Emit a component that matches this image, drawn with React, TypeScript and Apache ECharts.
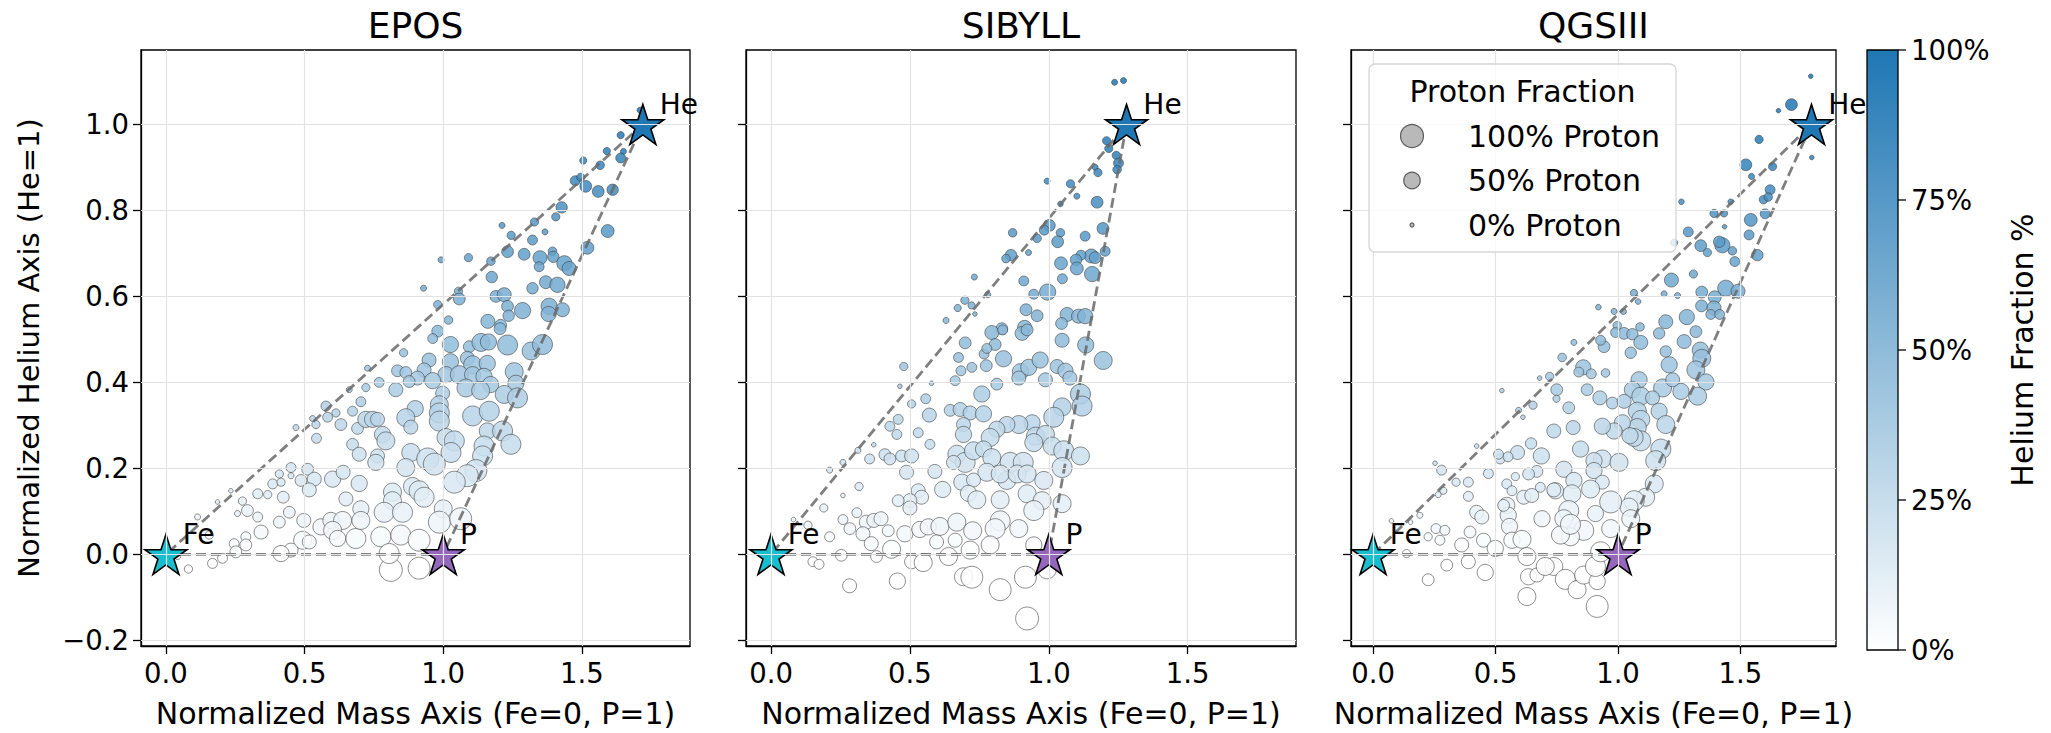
import React, { useEffect, useRef } from 'react';
import * as echarts from 'echarts';

const PANEL_TITLES = ['EPOS', 'SIBYLL', 'QGSIII'];
const HE_X = [1.72, 1.28, 1.79];
const X_TICKS = [0, 0.5, 1.0, 1.5];
const Y_TICKS = [-0.2, 0, 0.2, 0.4, 0.6, 0.8, 1.0];
const CBAR_TICKS = [0, 25, 50, 75, 100];
const LEGEND_LEVELS = [100, 50, 0];
const X_LABEL = 'Normalized Mass Axis (Fe=0, P=1)';
const Y_LABEL = 'Normalized Helium Axis (He=1)';
const CBAR_LABEL = 'Helium Fraction %';
const LEGEND_TITLE = 'Proton Fraction';

// [x, y, helium %, proton %]
const EPOS_POINTS = [
  [1.71,1.033,100,4],[1.64,0.975,98,7],[1.59,0.938,94,7],[1.65,0.937,94,4],[1.64,0.922,92,16],
  [1.505,0.916,92,7],[1.566,0.905,90,11],[1.476,0.869,87,16],[1.496,0.877,88,10],[1.514,0.856,86,24],
  [1.559,0.844,84,24],[1.611,0.848,85,22],[1.427,0.807,81,22],[1.406,0.785,79,10],[1.329,0.773,77,10],
  [1.212,0.765,77,4],[1.367,0.75,75,4],[1.593,0.752,75,29],[1.245,0.742,74,10],[1.322,0.731,73,16],
  [1.52,0.713,71,29],[1.394,0.705,71,11],[1.232,0.704,70,24],[1.292,0.698,70,24],[1.349,0.69,69,35],
  [1.397,0.692,69,22],[1.437,0.677,68,42],[1.454,0.665,67,35],[1.346,0.669,67,16],[0.992,0.685,69,4],
  [1.091,0.69,69,10],[1.172,0.682,68,11],[1.175,0.645,65,22],[1.37,0.633,63,29],[1.412,0.627,63,42],
  [1.322,0.619,62,22],[0.929,0.619,62,4],[1.055,0.612,61,10],[1.19,0.6,60,24],[1.22,0.604,60,35],
  [1.058,0.594,59,24],[0.98,0.581,58,10],[1.232,0.577,58,24],[1.286,0.567,57,48],[1.382,0.577,58,48],
  [1.43,0.569,57,35],[1.236,0.555,56,22],[1.38,0.559,56,42],[1.019,0.545,55,11],[1.161,0.542,54,35],
  [1.207,0.533,53,24],
  [0.98,0.519,52,24],[0.962,0.502,50,16],[1.026,0.488,49,48],[1.094,0.483,48,24],[1.136,0.493,49,60],
  [1.163,0.494,49,48],[1.232,0.487,49,75],[1.317,0.473,47,60],[1.358,0.488,49,75],[1.205,0.525,52,24],
  [0.857,0.469,47,10],[0.727,0.433,43,4],[0.949,0.452,45,35],[1.026,0.448,45,48],[1.087,0.456,46,35],
  [1.106,0.441,44,60],[1.159,0.444,44,48],[0.835,0.427,43,24],[0.865,0.423,42,24],[0.931,0.429,43,35],
  [1.256,0.425,43,60],[1.01,0.418,42,48],[1.058,0.418,42,60],[1.106,0.418,42,48],[1.147,0.414,41,48],
  [0.907,0.41,41,35],[0.962,0.404,40,48],[0.769,0.4,40,16],[0.721,0.388,39,10],[0.829,0.383,38,35],
  [0.877,0.402,40,24],[1.171,0.395,40,48],[1.262,0.398,40,48],[1.082,0.387,39,60],[1.135,0.381,38,60],
  [0.998,0.375,38,35],[1.22,0.372,37,60],[1.268,0.364,36,75],[0.661,0.383,38,4],[0.577,0.345,35,16],
  [0.703,0.355,36,16],[0.613,0.329,33,10],[0.583,0.319,32,16],[0.673,0.333,33,16],[0.631,0.302,30,24],
  [0.691,0.293,29,24],[0.673,0.256,26,24],[0.697,0.233,23,35],[0.541,0.302,30,10],[0.543,0.27,27,16],
  [0.469,0.295,30,4],[0.529,0.316,32,4],[0.721,0.314,31,48],[0.745,0.314,31,48],[0.763,0.314,31,35],
  [0.899,0.339,34,48],[0.865,0.318,32,60],[0.883,0.296,30,35],[0.986,0.348,35,60],[0.986,0.329,33,75],
  [0.986,0.31,31,75],[1.106,0.322,32,75],[1.166,0.333,33,75],[0.781,0.279,28,48],[0.793,0.264,26,60],
  [1.01,0.272,27,60],[1.04,0.264,26,75],[1.028,0.237,24,75],[1.159,0.287,29,48],[1.214,0.287,29,75],
  [1.244,0.256,26,75],[1.147,0.252,25,75],[1.142,0.229,23,75],[0.883,0.237,24,60],[0.944,0.222,22,91],
  [0.968,0.21,21,91],[0.763,0.229,23,35],[0.757,0.214,21,48],[0.865,0.202,20,60],[1.118,0.195,20,91],
  [1.087,0.183,18,91],[1.04,0.168,17,91],[0.451,0.202,20,16],[0.511,0.198,20,24],[0.487,0.172,17,24],
  [0.535,0.175,18,35],[0.517,0.15,15,35],[0.601,0.175,18,48],[0.639,0.191,19,35],[0.697,0.165,17,48],
  [0.649,0.129,13,35],[0.409,0.187,19,10],[0.385,0.164,16,16],[0.415,0.168,17,10],[0.451,0.183,18,4],
  [0.331,0.141,14,16],[0.367,0.139,14,10],[0.423,0.133,13,24],[0.276,0.124,12,10],[0.294,0.102,10,24],
  [0.331,0.087,9,16],[0.258,0.095,10,4],[0.234,0.148,15,1],[0.186,0.122,12,1],[0.114,0.087,9,4],
  [0.817,0.145,15,60],[0.817,0.125,13,60],[0.889,0.158,16,60],[0.913,0.148,15,75],[0.931,0.133,13,75],
  [0.703,0.106,11,48],[0.787,0.098,10,75],[0.853,0.098,10,75],[1.0,0.106,11,60],[0.986,0.075,8,91],
  [1.063,0.083,8,91],[0.445,0.098,10,24],[0.497,0.079,8,35],[0.409,0.075,8,24],[0.343,0.052,5,35],
  [0.559,0.064,6,48],[0.595,0.079,8,48],[0.637,0.079,8,60],[0.601,0.056,6,60],[0.619,0.037,4,48],
  [0.685,0.037,4,75],[0.703,0.079,8,60],[0.775,0.041,4,75],[0.847,0.045,5,75],[0.913,0.033,3,91],
  [0.493,0.033,3,60],[0.517,0.029,3,35],[0.451,0.01,1,35],[0.415,0.002,0,48],[0.288,0.041,4,16],
  [0.288,0.022,2,24],[0.246,0.025,3,16],[0.252,0.006,1,24],[0.204,-0.009,0,16],[0.168,-0.021,0,16],
  [0.081,-0.034,0,10],[0.042,-0.005,0,4],[0.156,0.045,5,10],[0.811,-0.036,0,100],[0.913,-0.032,0,91],
  [0.805,0.002,0,75]
];

const SIBYLL_POINTS = [
  [1.237,1.098,100,4],[1.269,1.102,100,4],[1.208,0.962,96,10],[1.216,0.944,94,10],[1.243,0.928,93,10],
  [1.251,0.91,91,16],[1.246,0.895,90,11],[1.167,0.9,90,4],[1.177,0.888,89,10],[0.994,0.868,87,4],
  [1.078,0.862,86,10],[1.101,0.833,83,4],[1.042,0.815,82,3],[1.174,0.819,82,24],[1.002,0.765,77,24],
  [0.984,0.754,75,16],[0.958,0.735,74,11],[0.87,0.748,75,11],[1.042,0.748,75,11],[1.032,0.727,73,24],
  [1.131,0.74,74,16],[1.195,0.758,76,24],[1.203,0.705,71,16],[1.153,0.694,69,35],[1.116,0.696,70,16],
  [1.098,0.685,69,22],[1.167,0.69,69,24],[0.864,0.696,70,22],[0.846,0.688,69,11],[0.927,0.702,70,4],
  [1.044,0.677,68,29],[1.101,0.665,67,29],[1.156,0.652,65,42],[1.049,0.641,64,16],[0.732,0.645,65,4],
  [0.91,0.636,64,16],[0.996,0.61,61,48],[0.946,0.605,61,16],[0.78,0.604,60,4],[0.698,0.591,59,10],
  [0.672,0.573,57,7],[0.722,0.579,58,7],[0.734,0.559,56,1],[0.63,0.544,54,4],[0.918,0.569,57,24],
  [0.958,0.555,56,24],[0.913,0.528,53,35],[0.831,0.525,53,24],[1.066,0.558,56,35],[1.046,0.537,54,24],
  [1.107,0.554,55,35],[1.131,0.554,55,42],
  [0.795,0.516,52,35],[0.834,0.522,52,16],[0.904,0.514,51,35],[0.922,0.522,52,24],[1.048,0.498,50,35],
  [1.133,0.487,49,48],[1.196,0.451,45,60],[0.699,0.492,49,24],[0.807,0.488,49,24],[0.767,0.466,47,16],
  [0.777,0.479,48,16],[0.675,0.458,46,16],[0.723,0.435,44,16],[0.775,0.439,44,24],[0.837,0.455,46,48],
  [0.684,0.427,43,16],[0.663,0.404,40,16],[0.813,0.396,40,24],[0.898,0.425,43,48],[0.928,0.435,44,48],
  [0.892,0.41,41,35],[0.969,0.452,45,48],[0.988,0.406,41,35],[1.03,0.437,44,35],[1.06,0.427,43,42],
  [1.076,0.41,41,35],[0.478,0.437,44,10],[0.464,0.391,39,1],[0.578,0.398,40,1],[0.759,0.373,37,48],
  [0.506,0.35,35,10],[0.557,0.362,36,16],[0.57,0.324,32,35],[0.645,0.335,34,24],[0.681,0.337,34,35],
  [0.717,0.329,33,35],[0.765,0.327,33,48],[1.114,0.373,37,75],[1.12,0.345,35,75],[1.048,0.343,34,60],
  [1.018,0.319,32,75],[0.94,0.306,31,48],[0.892,0.302,30,60],[0.849,0.302,30,48],[0.813,0.291,29,48],
  [0.458,0.314,31,16],[0.428,0.298,30,16],[0.453,0.279,28,16],[0.53,0.283,28,16],[0.572,0.256,26,16],
  [0.693,0.302,30,35],[0.693,0.279,28,48],[0.789,0.272,27,60],[0.952,0.275,28,60],[0.988,0.279,28,60],
  [0.946,0.26,26,60],[1.012,0.252,25,60],[1.054,0.241,24,75],[1.114,0.229,23,60],[1.048,0.202,20,75],
  [0.313,0.242,24,4],[0.37,0.255,26,1],[0.355,0.222,22,16],[0.41,0.232,23,24],[0.428,0.222,22,24],
  [0.47,0.229,23,24],[0.506,0.229,23,35],[0.259,0.214,21,4],[0.211,0.196,20,4],[0.669,0.233,23,60],
  [0.699,0.214,21,75],[0.729,0.241,24,60],[0.765,0.245,25,48],[0.795,0.225,23,60],[0.861,0.214,21,75],
  [0.908,0.214,21,75],[0.657,0.214,21,35],[0.488,0.191,19,35],[0.59,0.193,19,35],[0.777,0.191,19,60],
  [0.849,0.172,17,60],[0.825,0.187,19,60],[0.886,0.187,19,60],[0.922,0.187,19,60],[0.982,0.172,17,60],
  [0.687,0.168,17,48],[0.729,0.173,17,35],[0.618,0.151,15,48],[0.711,0.142,14,48],[0.741,0.127,13,60],
  [0.825,0.127,13,60],[0.922,0.141,14,60],[0.976,0.125,13,60],[1.048,0.118,12,60],[0.946,0.102,10,75],
  [0.317,0.158,16,10],[0.259,0.137,14,1],[0.53,0.148,15,35],[0.542,0.133,13,35],[0.5,0.125,13,35],
  [0.458,0.125,13,24],[0.5,0.108,11,35],[0.19,0.108,11,10],[0.081,0.081,8,1],[0.133,0.068,7,10],
  [0.259,0.081,8,16],[0.309,0.097,10,16],[0.343,0.075,8,35],[0.37,0.079,8,35],[0.396,0.083,8,35],
  [0.284,0.06,6,24],[0.331,0.048,5,35],[0.211,0.041,4,16],[0.361,0.025,3,35],[0.422,0.055,6,24],
  [0.482,0.048,5,48],[0.536,0.058,6,48],[0.566,0.064,6,48],[0.608,0.065,7,60],[0.669,0.075,8,60],
  [0.726,0.055,6,60],[0.825,0.078,8,75],[0.892,0.06,6,60],[0.807,0.06,6,75],[0.596,0.029,3,35],
  [0.663,0.033,3,35],[0.717,0.01,1,60],[0.789,0.022,2,60],[0.434,0.012,1,60],[0.38,-0.005,0,24],
  [0.253,-0.002,0,24],[0.151,-0.017,0,16],[0.173,-0.023,0,16],[0.506,-0.017,0,35],[0.548,-0.019,0,60],
  [0.639,-0.005,0,60],[0.946,0.022,2,48],[0.994,-0.036,0,60],[0.916,-0.053,0,91],[0.693,-0.052,0,60],
  [0.723,-0.053,0,91],[0.825,-0.082,0,91],[0.455,-0.062,0,48],[0.283,-0.073,0,35],[0.922,-0.149,0,100]
];

const QGSIII_POINTS = [
  [1.787,1.112,100,1],[1.708,1.046,100,24],[1.655,1.032,100,1],[1.576,0.965,97,10],[1.791,0.923,92,1],
  [1.522,0.906,91,24],[1.631,0.902,90,10],[1.545,0.879,88,4],[1.621,0.848,85,16],[1.594,0.825,83,11],
  [1.613,0.831,83,11],[1.46,0.82,82,3],[1.259,0.82,82,3],[1.601,0.792,79,16],[1.392,0.793,79,10],
  [1.433,0.793,79,7],[1.542,0.778,78,29],[1.435,0.762,76,1],[1.287,0.75,75,16],[1.535,0.743,74,16],
  [1.229,0.725,73,7],[1.338,0.718,72,24],[1.365,0.702,70,10],[1.426,0.719,72,42],[1.413,0.727,73,22],
  [1.467,0.706,71,11],[1.569,0.696,70,22],[1.477,0.681,68,16],[1.308,0.652,65,10],[1.218,0.638,64,35],
  [1.44,0.619,62,48],[1.49,0.612,61,35],[1.342,0.61,61,24],[1.395,0.598,60,29],[1.243,0.602,60,4],
  [1.188,0.606,61,4],[1.065,0.608,61,7],[1.082,0.588,59,3],[0.92,0.575,58,3],[0.984,0.565,57,4],
  [1.022,0.565,57,4],[1.341,0.578,58,24],[1.392,0.573,57,35],[1.379,0.558,56,16],[1.415,0.558,56,16],
  [1.281,0.552,55,42],[1.195,0.541,54,35],[0.997,0.532,53,11],[1.09,0.529,53,11],
  [0.82,0.493,49,4],[0.943,0.483,48,24],[0.929,0.498,50,16],[0.99,0.516,52,16],[1.025,0.514,51,24],
  [1.059,0.512,51,22],[1.093,0.493,49,35],[1.168,0.514,51,22],[1.27,0.495,50,35],[1.318,0.518,52,24],
  [1.195,0.472,47,22],[1.336,0.475,48,48],[1.342,0.456,46,60],[1.052,0.469,47,22],[0.772,0.458,46,11],
  [0.858,0.435,44,42],[0.84,0.424,42,16],[0.891,0.42,42,16],[0.949,0.422,42,11],[1.209,0.441,44,48],
  [1.318,0.429,43,60],[1.359,0.401,40,48],[1.325,0.368,37,60],[1.257,0.379,38,48],[1.182,0.387,39,60],
  [1.223,0.406,41,35],[1.086,0.406,41,48],[1.059,0.383,38,48],[1.093,0.368,37,60],[1.141,0.364,36,35],
  [1.168,0.333,33,48],[1.195,0.302,30,60],[1.175,0.245,25,75],[1.154,0.218,22,75],[1.148,0.164,16,60],
  [1.113,0.133,13,60],[1.066,0.125,13,75],[1.045,0.11,11,60],[1.052,0.083,8,60],[0.68,0.41,41,1],
  [0.721,0.414,41,10],[0.75,0.383,38,24],[0.749,0.362,36,7],[0.799,0.341,34,24],[0.874,0.383,38,24],
  [0.926,0.364,36,35],[0.977,0.352,35,24],[1.025,0.356,36,35],[1.079,0.333,33,60],[1.093,0.314,31,60],
  [1.079,0.295,30,60],[1.093,0.264,26,75],[1.066,0.272,27,60],[1.018,0.306,31,48],[0.984,0.287,29,48],
  [0.936,0.298,30,48],[1.049,0.276,28,48],[0.653,0.347,35,10],[0.594,0.335,34,4],[0.612,0.319,32,1],
  [0.526,0.381,38,1],[0.738,0.287,29,35],[0.817,0.295,30,35],[0.847,0.245,25,48],[0.645,0.258,26,22],
  [0.687,0.229,23,48],[0.59,0.237,24,35],[0.519,0.222,22,16],[0.551,0.227,23,16],[0.423,0.252,25,1],
  [0.936,0.222,22,60],[0.902,0.218,22,48],[1.004,0.214,21,60],[0.779,0.198,20,48],[0.902,0.195,20,48],
  [0.936,0.168,17,35],[0.82,0.172,17,48],[0.888,0.152,15,60],[0.812,0.141,14,60],[0.745,0.148,15,48],
  [0.97,0.122,12,91],[0.908,0.095,10,48],[0.799,0.102,10,75],[0.779,0.083,8,60],[0.86,0.056,6,75],
  [0.806,0.041,4,60],[0.765,0.045,5,60],[0.669,0.193,19,24],[0.635,0.187,19,24],[0.738,0.15,15,35],
  [0.581,0.181,18,10],[0.546,0.164,16,16],[0.567,0.148,15,16],[0.615,0.133,13,35],[0.648,0.137,14,35],
  [0.683,0.156,16,16],[0.546,0.114,11,48],[0.552,0.091,9,48],[0.557,0.065,7,48],[0.567,0.033,3,48],
  [0.608,0.035,4,60],[0.69,0.083,8,48],[0.806,0.07,7,75],[0.533,0.114,11,24],[0.471,0.188,19,16],
  [0.512,0.233,23,16],[0.389,0.168,17,16],[0.389,0.135,14,16],[0.339,0.168,17,10],[0.28,0.196,20,16],
  [0.253,0.212,21,1],[0.287,0.148,15,7],[0.266,0.139,14,4],[0.191,0.091,9,4],[0.075,0.078,8,1],
  [0.153,0.075,8,1],[0.423,0.098,10,35],[0.444,0.087,9,35],[0.396,0.052,5,24],[0.451,0.033,3,35],
  [0.499,0.014,1,48],[0.257,0.06,6,16],[0.293,0.056,6,16],[0.225,0.041,4,10],[0.273,0.033,3,16],
  [0.362,0.022,2,35],[0.137,0.002,0,10],[0.301,-0.025,0,24],[0.389,-0.017,0,35],[0.458,-0.042,0,48],
  [0.225,-0.059,0,24],[0.635,-0.052,0,48],[0.669,-0.048,0,35],[0.738,-0.028,0,60],[0.785,-0.058,0,75],
  [0.833,-0.082,0,60],[0.86,-0.048,0,60],[0.915,-0.063,0,48],[0.908,-0.028,0,75],[0.628,-0.098,0,60],
  [0.915,-0.121,0,91],[0.628,-0.005,0,60],[0.703,-0.028,0,60],[0.97,0.06,6,60],[0.929,0.006,1,75]
];

const PANEL_POINTS = [EPOS_POINTS, SIBYLL_POINTS, QGSIII_POINTS];

const FONT = 'DejaVu Sans';
const STAR = 'path://M50,0 L61.23,34.55 L97.55,34.55 L68.16,55.9 L79.39,90.45 L50,69.1 L20.61,90.45 L31.84,55.9 L2.45,34.55 L38.77,34.55 Z';
const sizeOf = (p: number) => Math.sqrt(16 + 5.13 * p);
const fmtTick = (v: number) => {
  const s = Math.abs(v).toFixed(1);
  return v < -1e-9 ? '\u2212' + s : s;
};

const GRIDS = [
  { left: 141, top: 50, width: 549, height: 600 },
  { left: 746, top: 50, width: 550, height: 600 },
  { left: 1351, top: 50, width: 485, height: 600 },
];

function buildOption() {
  const xAxis: any[] = [];
  const yAxis: any[] = [];
  const series: any[] = [];
  const scatterIdx: number[] = [];

  GRIDS.forEach((g, i) => {
    xAxis.push({
      type: 'value', gridIndex: i, min: -0.09, max: 1.89,
      name: X_LABEL, nameLocation: 'middle', nameGap: 52,
      nameTextStyle: { fontSize: 30, color: '#000', fontFamily: FONT },
      axisLine: { show: true, onZero: false, lineStyle: { color: '#000', width: 1.3 } },
      axisTick: { show: true, customValues: X_TICKS, length: 8, lineStyle: { color: '#000', width: 1.3 } },
      axisLabel: { show: true, customValues: X_TICKS, formatter: fmtTick, fontSize: 27.5, color: '#000', fontFamily: FONT, margin: 13 },
      splitLine: { show: false },
    });
    yAxis.push({
      type: 'value', gridIndex: i, min: -0.213, max: 1.173,
      name: i === 0 ? Y_LABEL : '', nameLocation: 'middle', nameGap: 98, nameRotate: 90,
      nameTextStyle: { fontSize: 29, color: '#000', fontFamily: FONT },
      axisLine: { show: true, onZero: false, lineStyle: { color: '#000', width: 1.3 } },
      axisTick: { show: true, customValues: Y_TICKS, length: 8, lineStyle: { color: '#000', width: 1.3 } },
      axisLabel: { show: i === 0, customValues: Y_TICKS, formatter: fmtTick, fontSize: 27.5, color: '#000', fontFamily: FONT, margin: 12 },
      splitLine: { show: false },
    });

    // grid lines
    series.push({
      type: 'scatter', xAxisIndex: i, yAxisIndex: i, data: [[0, 0]], symbolSize: 0, silent: true, z: 1,
      markLine: {
        silent: true, symbol: ['none', 'none'], label: { show: false },
        lineStyle: { color: '#e3e3e3', width: 1.2, type: 'solid' },
        emphasis: { disabled: true },
        data: [...X_TICKS.map((v) => ({ xAxis: v })), ...Y_TICKS.map((v) => ({ yAxis: v }))],
      },
    });
    // points
    scatterIdx.push(series.length);
    series.push({
      type: 'scatter', xAxisIndex: i, yAxisIndex: i, data: PANEL_POINTS[i], z: 2,
      symbolSize: (v: number[]) => sizeOf(v[3]),
      itemStyle: { opacity: 0.85, borderColor: 'rgba(60,60,60,0.75)', borderWidth: 0.9 },
      emphasis: { disabled: true },
    });
    // triangle
    series.push({
      type: 'line', xAxisIndex: i, yAxisIndex: i, z: 3, silent: true, symbol: 'none',
      data: [[0, 0], [1, 0], [HE_X[i], 1], [0, 0]],
      lineStyle: { color: 'rgba(105,105,105,0.85)', width: 2.8, type: [10, 5] },
    });
    // stars
    series.push({
      type: 'scatter', xAxisIndex: i, yAxisIndex: i, z: 4, silent: true,
      symbol: STAR, symbolSize: 42, symbolKeepAspect: true,
      data: [
        { name: 'Fe', value: [0, 0], itemStyle: { color: '#17becf' } },
        { name: 'P', value: [1, 0], itemStyle: { color: '#9467bd' } },
        { name: 'He', value: [HE_X[i], 1], itemStyle: { color: '#1f77b4' } },
      ],
      itemStyle: { borderColor: '#000', borderWidth: 1.6, opacity: 1 },
      label: { show: true, formatter: '{b}', position: 'right', offset: [-10, -20], fontSize: 28, color: '#000', fontFamily: FONT },
    });
  });

  const graphic: any[] = [];
  // titles
  GRIDS.forEach((g, i) => {
    graphic.push({
      type: 'text', x: g.left + g.width / 2, y: 25, silent: true,
      style: { text: PANEL_TITLES[i], align: 'center', verticalAlign: 'middle', fontSize: 36, fontFamily: FONT, fill: '#000' },
    });
  });
  // legend
  const LX = 1369, LY = 64, LW = 307, LH = 188;
  graphic.push({
    type: 'rect', shape: { x: LX, y: LY, width: LW, height: LH, r: 6 }, z: 50, silent: true,
    style: { fill: 'rgba(255,255,255,0.8)', stroke: '#d6d6d6', lineWidth: 1.3 },
  });
  graphic.push({
    type: 'text', x: LX + LW / 2, y: LY + 27, z: 51, silent: true,
    style: { text: LEGEND_TITLE, align: 'center', verticalAlign: 'middle', fontSize: 30, fontFamily: FONT, fill: '#000' },
  });
  LEGEND_LEVELS.forEach((p, k) => {
    const cy = LY + 72 + k * 44.5;
    graphic.push({
      type: 'circle', shape: { cx: LX + 43, cy, r: sizeOf(p) / 2 }, z: 51, silent: true,
      style: { fill: 'rgba(128,128,128,0.55)', stroke: 'rgba(60,60,60,0.8)', lineWidth: 1.2 },
    });
    graphic.push({
      type: 'text', x: LX + 99, y: cy, z: 51, silent: true,
      style: { text: `${p}% Proton`, align: 'left', verticalAlign: 'middle', fontSize: 30, fontFamily: FONT, fill: '#000' },
    });
  });
  // colorbar
  const CX = 1867, CY = 50, CW = 31, CH = 600;
  graphic.push({
    type: 'rect', shape: { x: CX, y: CY, width: CW, height: CH }, silent: true,
    style: {
      fill: new echarts.graphic.LinearGradient(0, 0, 0, 1, [
        { offset: 0, color: '#1f77b4' },
        { offset: 1, color: '#ffffff' },
      ]),
      stroke: '#000', lineWidth: 1.3,
    },
  });
  CBAR_TICKS.forEach((t) => {
    const y = CY + CH - (t / 100) * CH;
    graphic.push({ type: 'line', shape: { x1: CX + CW, y1: y, x2: CX + CW + 8, y2: y }, silent: true, style: { stroke: '#000', lineWidth: 1.3 } });
    graphic.push({
      type: 'text', x: CX + CW + 13, y, silent: true,
      style: { text: `${t}%`, align: 'left', verticalAlign: 'middle', fontSize: 27.5, fontFamily: FONT, fill: '#000' },
    });
  });
  graphic.push({
    type: 'text', x: 2022, y: CY + CH / 2, rotation: Math.PI / 2, silent: true,
    style: { text: CBAR_LABEL, align: 'center', verticalAlign: 'middle', fontSize: 30, fontFamily: FONT, fill: '#000' },
  });

  return {
    animation: false,
    backgroundColor: '#fff',
    textStyle: { fontFamily: FONT },
    grid: GRIDS.map((g) => ({ ...g, show: true, borderColor: '#000', borderWidth: 1.3, backgroundColor: 'transparent' })),
    xAxis, yAxis,
    visualMap: {
      show: false, type: 'continuous', min: 0, max: 100, dimension: 2, seriesIndex: scatterIdx,
      inRange: { color: ['#ffffff', '#1f77b4'] },
    },
    series, graphic,
  };
}

export default function App() {
  const ref = useRef<HTMLDivElement>(null);
  useEffect(() => {
    document.body.style.margin = '0';
    if (!ref.current) return;
    const chart = echarts.init(ref.current, undefined, { renderer: 'svg' });
    chart.setOption(buildOption() as any);
    return () => chart.dispose();
  }, []);
  return <div ref={ref} style={{ width: 2051, height: 733 }} />;
}
